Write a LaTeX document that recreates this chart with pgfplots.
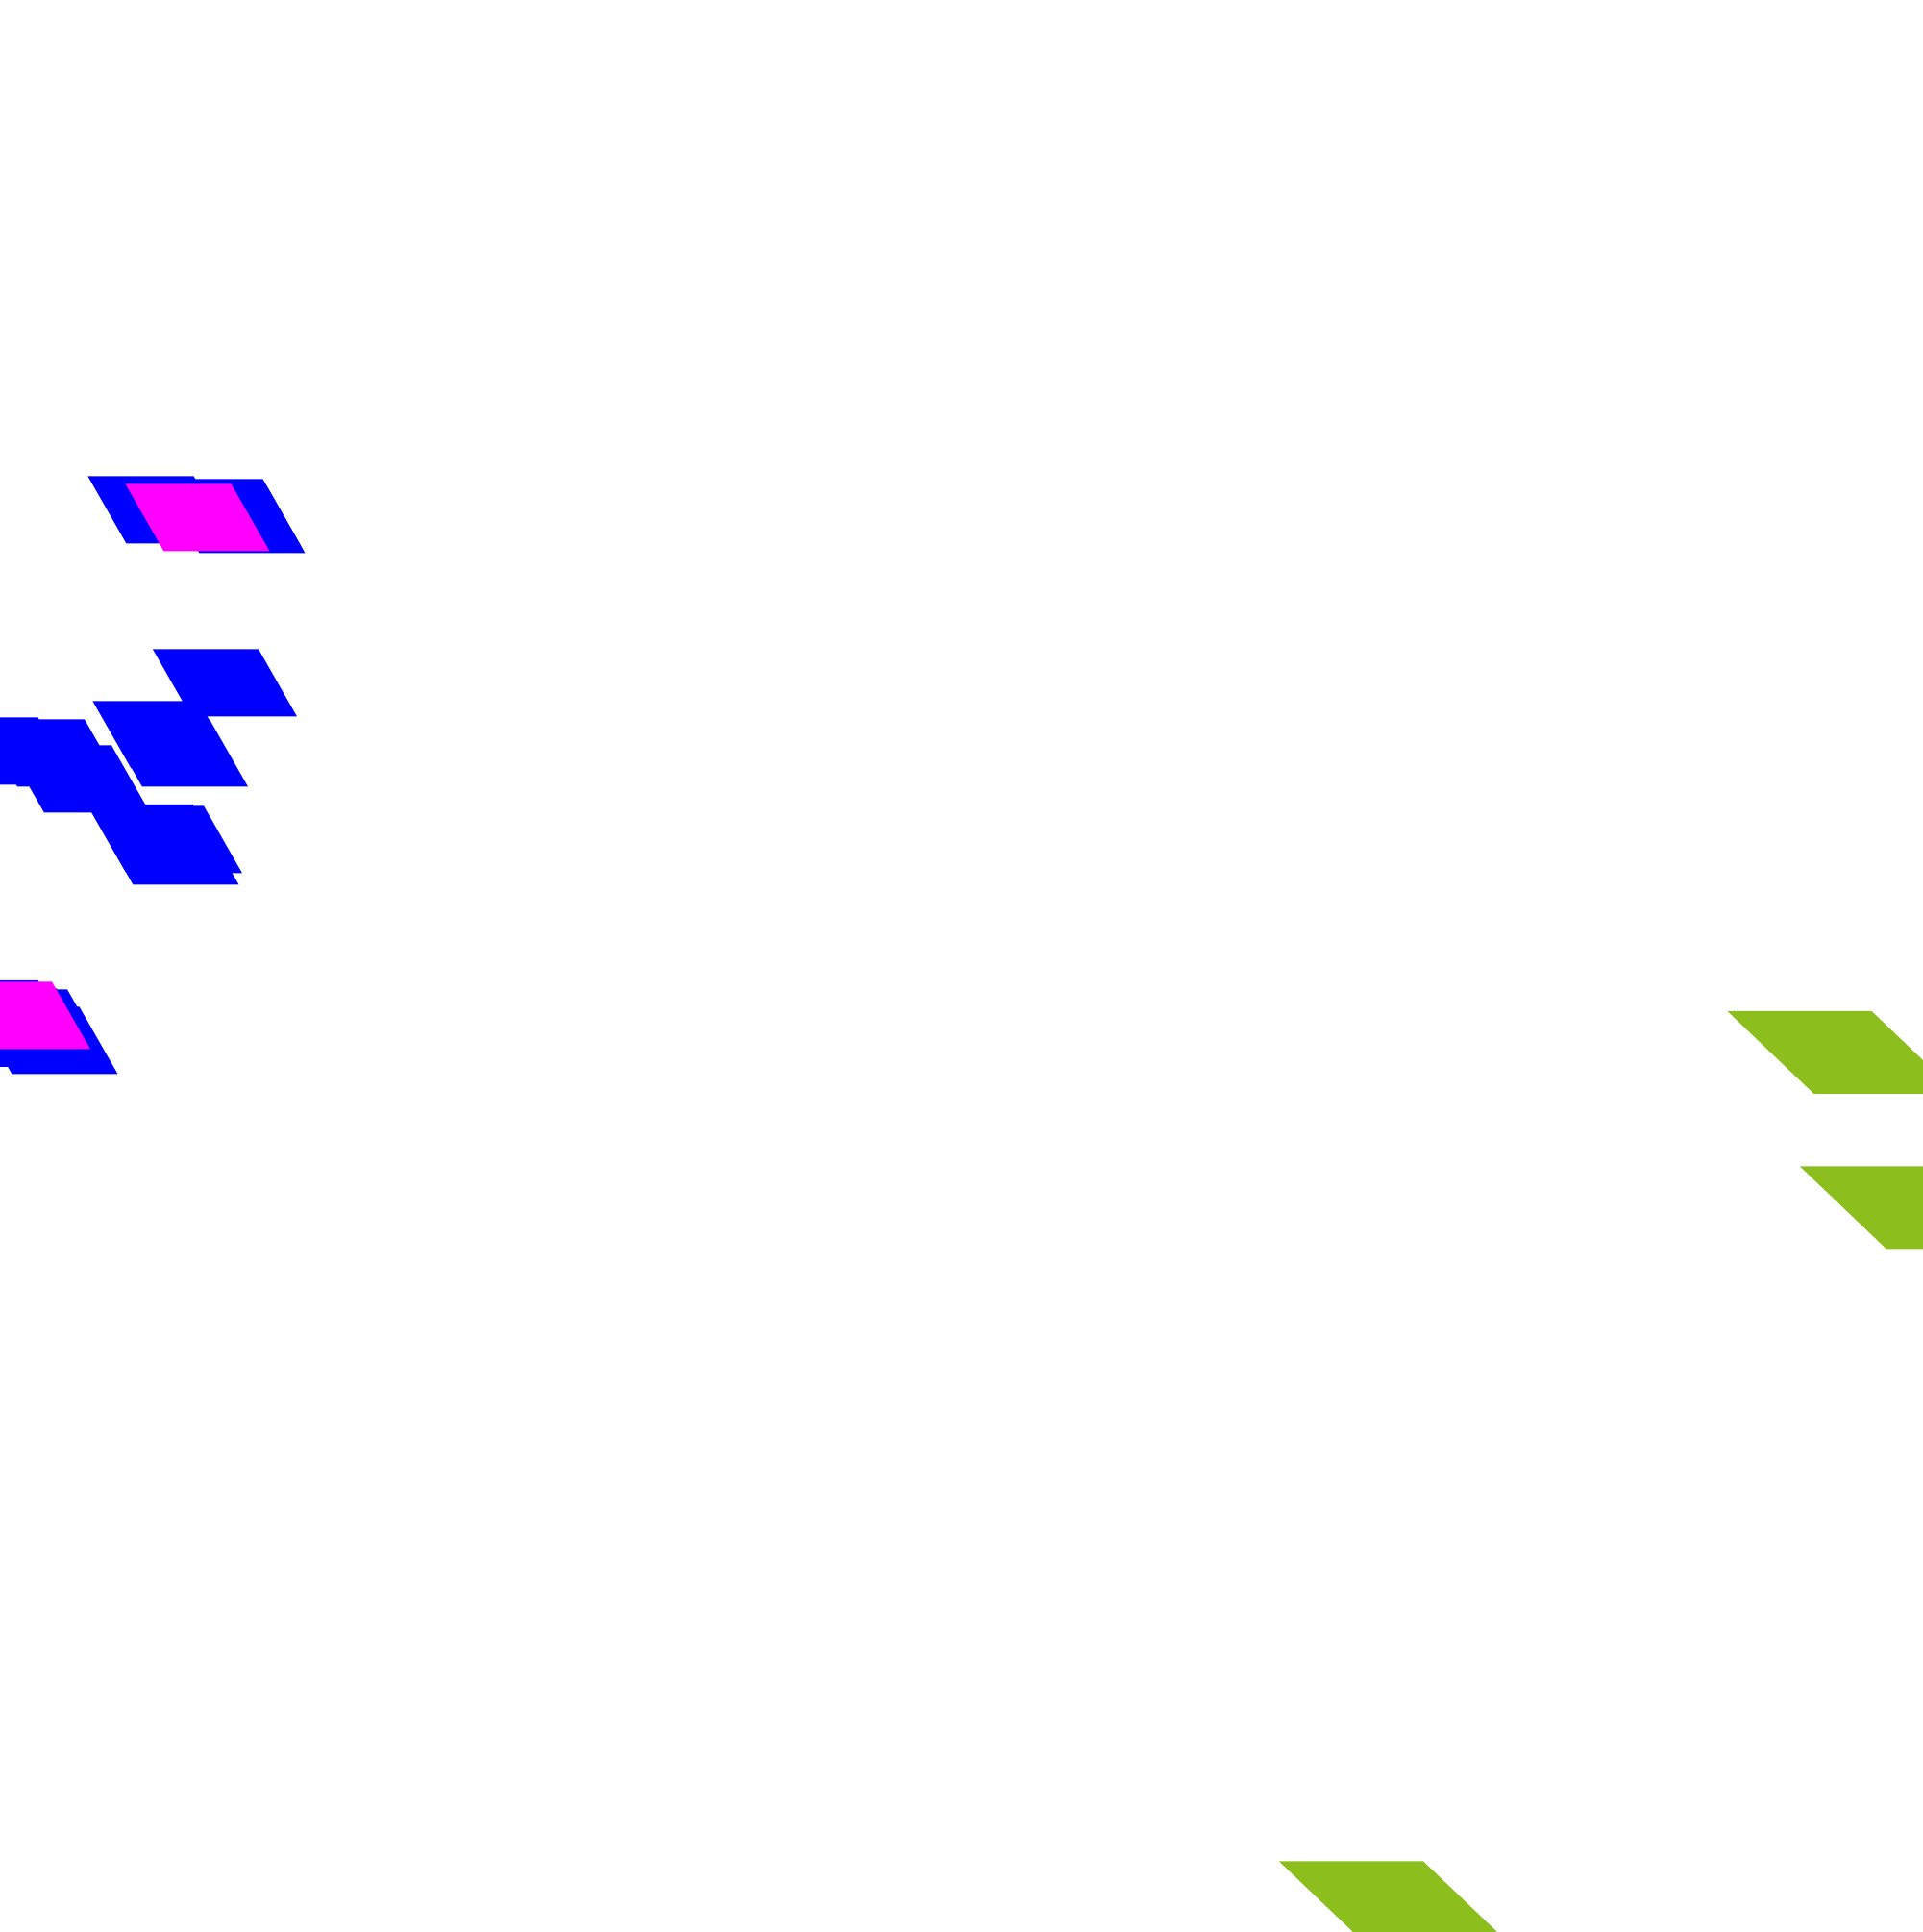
\documentclass[border=0pt]{standalone}
\usepackage{pgfplots}
\pgfplotsset{compat=1.18}

\definecolor{mkblue}{RGB}{0,0,255}
\definecolor{mkpink}{RGB}{255,0,255}
\definecolor{mkgreen}{RGB}{140,190,30}

% sheared marks, 1mm = 1px of the reference
\pgfdeclareplotmark{bpar}{%
  \pgfpathmoveto{\pgfpoint{-7.5mm}{3.5mm}}%
  \pgfpathlineto{\pgfpoint{3.5mm}{3.5mm}}%
  \pgfpathlineto{\pgfpoint{7.5mm}{-3.5mm}}%
  \pgfpathlineto{\pgfpoint{-3.5mm}{-3.5mm}}%
  \pgfpathclose
  \pgfusepathqfill}
\pgfdeclareplotmark{gpar}{%
  \pgfpathmoveto{\pgfpoint{-12mm}{4.3mm}}%
  \pgfpathlineto{\pgfpoint{3mm}{4.3mm}}%
  \pgfpathlineto{\pgfpoint{12mm}{-4.3mm}}%
  \pgfpathlineto{\pgfpoint{-3mm}{-4.3mm}}%
  \pgfpathclose
  \pgfusepathqfill}

\begin{document}
\begin{tikzpicture}
\useasboundingbox (0,0) rectangle (20cm,20.1cm);
\begin{axis}[
    hide axis,
    scale only axis,
    width=20cm,
    height=20.1cm,
    xmin=0, xmax=2000,
    ymin=0, ymax=2010,
    at={(0,0)}, anchor=south west,
]

\addplot[only marks, mark=bpar, color=mkblue] coordinates {
(166.5, 1479.5)
(238.5, 1476.5)
(242.5, 1469.5)
(234, 1299.5)
(171.5, 1245.5)
(4.5, 1228.5)
(53, 1226.5)
(183, 1226.5)
(81, 1199.5)
(165.5, 1138)
(177, 1136.5)
(173.5, 1124.5)
(4.5, 955)
(24, 946.5)
(35, 945.5)
(15, 941)
(27, 940.5)
(6, 935)
(19, 935)
(47.5, 927.5)
};

\addplot[only marks, mark=bpar, color=mkpink] coordinates {
(205.5, 1471.5)
(19, 953.5)
};

\addplot[only marks, mark=gpar, color=mkgreen] coordinates {
(1917.5, 915)
(1993, 753.5)
(1451, 30.5)
};

\end{axis}
\end{tikzpicture}
\end{document}
